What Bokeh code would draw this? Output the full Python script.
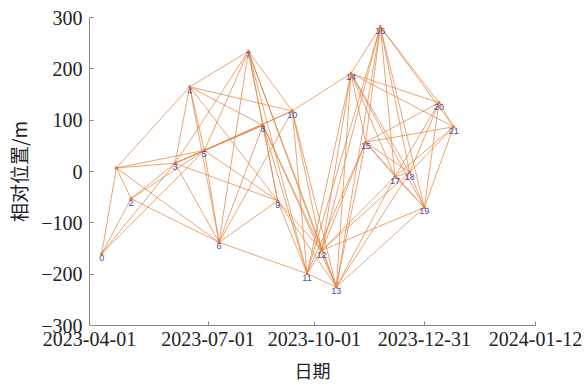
import pandas as pd
from bokeh.plotting import figure
from bokeh.models import ColumnDataSource, FixedTicker, Range1d
from bokeh.core.properties import value
from bokeh.embed import file_html
from bokeh.resources import INLINE

# acquisition dates and relative positions (m)
dates = ["2023-04-11", "2023-04-23", "2023-05-05", "2023-06-10", "2023-06-22",
         "2023-07-04", "2023-07-16", "2023-08-09", "2023-08-21", "2023-09-02",
         "2023-09-14", "2023-09-26", "2023-10-08", "2023-10-20", "2023-11-01",
         "2023-11-13", "2023-11-25", "2023-12-07", "2023-12-19", "2023-12-31",
         "2024-01-12", "2024-01-24"]
positions = [-160, 7, -53, 16, 165, 41, -138, 234, 90, -57, 118, -199, -154, -225,
             191, 57, 282, -10, -2, -70, 134, 87]
labels = ["0", "", "2", "3", "4", "5", "6", "7", "8", "9", "10", "11", "12", "13",
          "14", "15", "16", "17", "18", "19", "20", "21"]

# interferometric pairs (index of master, index of slave)
pairs = [(0, 1), (0, 2), (0, 3), (0, 5),
         (1, 2), (1, 3), (1, 4), (1, 5), (1, 6),
         (2, 3), (2, 5), (2, 6),
         (3, 4), (3, 5), (3, 6), (3, 7), (3, 8), (3, 9), (3, 10),
         (4, 5), (4, 6), (4, 7), (4, 8), (4, 9), (4, 10),
         (5, 6), (5, 7), (5, 8), (5, 9), (5, 10),
         (6, 7), (6, 8), (6, 9), (6, 10), (6, 11),
         (7, 8), (7, 9), (7, 10), (7, 11), (7, 12), (7, 13),
         (8, 9), (8, 11), (8, 12), (8, 13),
         (9, 11), (9, 12), (9, 13),
         (10, 11), (10, 12), (10, 13), (10, 14),
         (11, 12), (11, 13), (11, 14), (11, 15), (11, 16),
         (12, 13), (12, 14), (12, 15), (12, 16), (12, 17), (12, 18), (12, 19),
         (13, 14), (13, 15), (13, 16), (13, 17), (13, 18), (13, 19),
         (14, 15), (14, 16), (14, 17), (14, 18), (14, 19), (14, 20), (14, 21),
         (15, 16), (15, 17), (15, 18), (15, 19), (15, 20), (15, 21),
         (16, 17), (16, 18), (16, 19), (16, 20), (16, 21),
         (17, 18), (17, 19), (17, 20), (17, 21),
         (18, 19), (18, 20), (18, 21),
         (19, 20), (19, 21),
         (20, 21)]

# x axis ticks (days since 2023-04-01) and their labels
tick_days = [0, 97, 184, 274, 365]
tick_labels = ["2023-04-01", "2023-07-01", "2023-10-01", "2023-12-31", "2024-01-12"]
y_ticks = [-300, -200, -100, 0, 100, 200, 300]

origin = pd.Timestamp("2023-04-01")
days = [(pd.Timestamp(d) - origin).days for d in dates]

xs = [[days[a], days[b]] for a, b in pairs]
ys = [[positions[a], positions[b]] for a, b in pairs]

p = figure(width=584, height=385, output_backend="svg", toolbar_location=None,
           x_range=Range1d(0, 365), y_range=Range1d(-300, 300),
           min_border_left=89, min_border_right=49, min_border_top=17, min_border_bottom=58)
p.outline_line_color = None
p.xgrid.visible = False
p.ygrid.visible = False
p.background_fill_color = "white"

p.multi_line(xs, ys, line_color="#E2813D", line_alpha=0.8, line_width=0.9)

src = ColumnDataSource(dict(x=days, y=positions, label=labels))
p.scatter("x", "y", source=src, size=3, color="#E07B39", marker="triangle")
p.text("x", "y", text="label", source=src, text_align="center", text_baseline="top",
       y_offset=1, text_font=value("Liberation Sans"), text_font_size="9px",
       text_color="#4A4AA8")

for ax in (p.xaxis[0], p.yaxis[0]):
    ax.axis_line_color = "#888888"
    ax.major_tick_line_color = "#888888"
    ax.major_tick_in = 4
    ax.major_tick_out = 0
    ax.minor_tick_line_color = None
    ax.major_label_text_font = "Liberation Serif"
    ax.major_label_text_font_size = "20px"
    ax.major_label_text_color = "#222222"
    ax.axis_label_text_font = "Noto Sans CJK SC"
    ax.axis_label_text_font_style = "normal"
    ax.axis_label_text_color = "#222222"

p.xaxis.ticker = FixedTicker(ticks=tick_days)
p.xaxis.major_label_overrides = {t: l for t, l in zip(tick_days, tick_labels)}
p.xaxis.major_label_standoff = 6
p.xaxis.axis_label = "日期"
p.xaxis.axis_label_text_font_size = "18px"
p.xaxis.axis_label_standoff = 8

p.yaxis.ticker = FixedTicker(ticks=y_ticks)
p.yaxis.major_label_overrides = {t: ("\u2212" + str(-t) if t < 0 else str(t)) for t in y_ticks}
p.yaxis.major_label_standoff = 7
p.yaxis.axis_label = "相对位置/m"
p.yaxis.axis_label_text_font_size = "19px"
p.yaxis.axis_label_standoff = 6

open("out.html", "w").write(file_html(p, INLINE))
